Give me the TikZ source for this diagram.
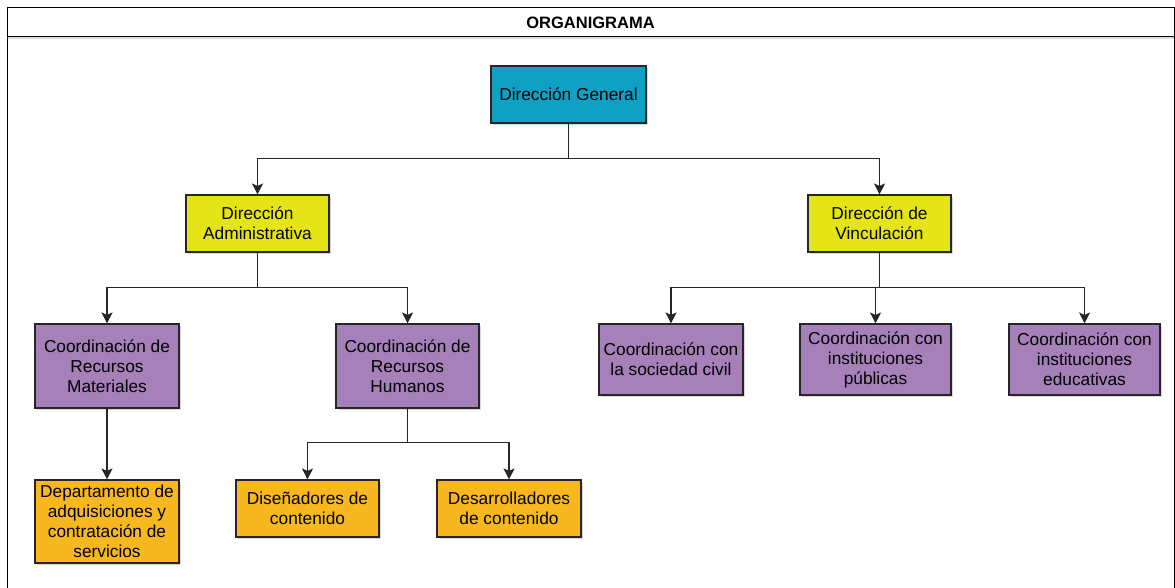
\documentclass[tikz,border=0pt]{standalone}
\usepackage{fontspec}
\setmainfont{Liberation Sans}
\usetikzlibrary{arrows.meta,shadows}

\definecolor{dirgen}{RGB}{16,160,196}
\definecolor{diramarillo}{RGB}{228,228,22}
\definecolor{coordmorado}{RGB}{166,128,184}
\definecolor{deptnaranja}{RGB}{246,184,30}

\begin{document}
\begin{tikzpicture}[x=1pt,y=-1pt,
        caja/.style={draw=black!85,line width=1.1pt,align=center,inner sep=2pt,
            font=\fontsize{17.3}{20}\selectfont,
            drop shadow={shadow xshift=1.5pt,shadow yshift=-2pt,opacity=0.3}},
        enlace/.style={line width=1.1pt,draw=black!85,-{Stealth[length=11pt,width=11pt,inset=2.5pt]}}]
        \useasboundingbox (0,0) rectangle (1175,588);
        %% Marco
        \draw[line width=1pt] (7,588) -- (7,8) -- (1174,8) -- (1174,588);
        \node[draw,line width=1pt,minimum width=1167pt,minimum height=29pt,fill=white,
            drop shadow={shadow xshift=0pt,shadow yshift=-2pt,opacity=0.25}] (titulo) at (590.5,22.5)
            {\fontsize{16.5}{18}\selectfont\bfseries ORGANIGRAMA};
        %% Bloques
        \node[caja,fill=dirgen,minimum width=155pt,minimum height=57pt] (DG) at (568.5,94.5) {Dirección General};
        \node[caja,fill=diramarillo,minimum width=143pt,minimum height=57pt] (DA) at (257.5,223.5) {Dirección\\Administrativa};
        \node[caja,fill=diramarillo,minimum width=143pt,minimum height=57pt] (DV) at (879.5,223.5) {Dirección de\\Vinculación};
        \node[caja,fill=coordmorado,minimum width=144pt,minimum height=84pt] (RM) at (107,366) {Coordinación de\\Recursos\\Materiales};
        \node[caja,fill=coordmorado,minimum width=143pt,minimum height=84pt] (RH) at (407.5,366) {Coordinación de\\Recursos\\Humanos};
        \node[caja,fill=coordmorado,minimum width=144pt,minimum height=71pt] (CS) at (671,359.5) {Coordinación con\\la sociedad civil};
        \node[caja,fill=coordmorado,minimum width=151pt,minimum height=71pt] (CP) at (875.5,359.5) {Coordinación con\\instituciones\\públicas};
        \node[caja,fill=coordmorado,minimum width=151pt,minimum height=71pt] (CE) at (1084.5,359.5) {Coordinación con\\instituciones\\educativas};
        \node[caja,fill=deptnaranja,minimum width=144pt,minimum height=83pt] (DP) at (107,521.5) {Departamento de\\adquisiciones y\\contratación de\\servicios};
        \node[caja,fill=deptnaranja,minimum width=143pt,minimum height=57pt] (DI) at (307.5,508.5) {Diseñadores de\\contenido};
        \node[caja,fill=deptnaranja,minimum width=144pt,minimum height=57pt] (DS) at (509,508.5) {Desarrolladores\\de contenido};
        %% Flechas
        \draw[enlace] (DG.south) -- ++(0,35) -| (DA.north);
        \draw[enlace] (DG.south) -- ++(0,35) -| (DV.north);
        \draw[enlace] (DA.south) -- ++(0,35) -| (RM.north);
        \draw[enlace] (DA.south) -- ++(0,35) -| (RH.north);
        \draw[enlace] (DV.south) -- ++(0,35) -| (CS.north);
        \draw[enlace] (DV.south) -- ++(0,35) -| (CP.north);
        \draw[enlace] (DV.south) -- ++(0,35) -| (CE.north);
        \draw[enlace] (RM.south) -- (DP.north);
        \draw[enlace] (RH.south) -- ++(0,34) -| (DI.north);
        \draw[enlace] (RH.south) -- ++(0,34) -| (DS.north);
    \end{tikzpicture}
\end{document}
